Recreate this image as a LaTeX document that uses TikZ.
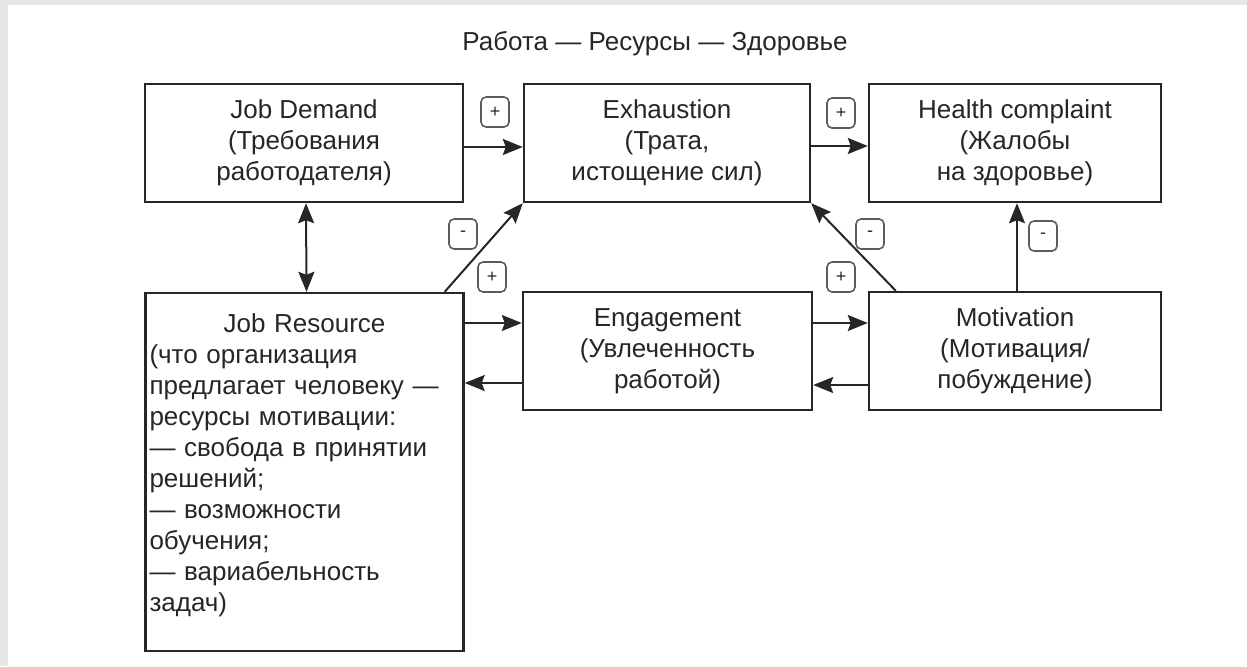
\documentclass[tikz,border=0pt]{standalone}
\usepackage{fontspec}
\setmainfont{Liberation Sans}
\usetikzlibrary{positioning,arrows.meta}
\definecolor{ink}{HTML}{262626}
\definecolor{edge}{HTML}{E7E5E5}
\tikzset{
  blk/.style={draw=ink,line width=1.2pt,align=center,inner sep=1pt,text=ink,
    font=\fontsize{13}{15.5}\selectfont},
  sgn/.style={draw=ink!75,line width=0.8pt,rounded corners=2.5pt,minimum width=14pt,
    minimum height=15pt,inner sep=0pt,text=ink,font=\fontsize{9}{9}\selectfont},
  tip/.tip={Stealth[length=10pt,width=8pt,inset=1.5pt]},
  arr/.style={draw=ink,line width=1pt,-tip},
  arr2/.style={draw=ink,line width=1pt,tip-tip},
}

\begin{document}
\begin{tikzpicture}[x=0.5pt,y=-0.5pt]
\useasboundingbox (0,0) rectangle (1247,666);
\fill[edge] (0,0) rectangle (1247,5);
\fill[edge] (0,0) rectangle (8,666);

\node[text=ink,font=\fontsize{13}{15.5}\selectfont] (title) at (655,44)
  {Работа — Ресурсы — Здоровье};

% top row
\node[blk,minimum width=159pt,minimum height=59pt] (demand) at (304,143)
  {Job Demand\\(Требования\\работодателя)};
\node[blk,minimum width=143pt,minimum height=59pt] (exhaust) at (667,143)
  {Exhaustion\\(Трата,\\истощение сил)};
\node[blk,minimum width=146pt,minimum height=59pt] (health) at (1015,143)
  {Health complaint\\(Жалобы\\на здоровье)};

% bottom row
\node[blk,align=left,text width=155pt,inner xsep=2pt,minimum width=159pt,minimum height=179pt] (resource) at (304.5,472)
  {\makebox[\hsize]{Job Resource}\\(что организация\\предлагает человеку —\\ресурсы мотивации:\\
   — свобода в принятии\\решений;\\— возможности\\обучения;\\— вариабельность\\задач)\\[-6pt]\mbox{}};
\node[blk,minimum width=144.5pt,minimum height=59pt] (engage) at (667.5,351)
  {Engagement\\(Увлеченность\\работой)};
\node[blk,minimum width=146pt,minimum height=59pt] (motiv) at (1015,351)
  {Motivation\\(Мотивация/\\побуждение)};

% connectors
\draw[arr] ([yshift=-2pt]demand.east) -- ([yshift=-2pt]exhaust.west);
\draw[arr] ([yshift=-1.5pt]exhaust.east) -- ([yshift=-1.5pt]health.west);
\draw[arr2] ([xshift=1pt]demand.south) -- ([xshift=1pt]resource.north);
\draw[arr] ([xshift=-10pt]resource.north east) -- (exhaust.south west);
\draw[arr] ([xshift=14pt]motiv.north west) -- (exhaust.south east);
\draw[arr] ([xshift=1pt]motiv.north) -- ([xshift=1pt]health.south);
\draw[arr] ([yshift=14pt]engage.west -| resource.east) -- ([yshift=14pt]engage.west);
\draw[arr] ([yshift=-16pt]engage.west) -- ([yshift=-16pt]engage.west -| resource.east);
\draw[arr] ([yshift=14pt]engage.east) -- ([yshift=14pt]motiv.west);
\draw[arr] ([yshift=-17pt]motiv.west) -- ([yshift=-17pt]engage.east);

% signs
\node[sgn] (s1) at (495,112) {+};
\node[sgn] (s2) at (841,113) {+};
\node[sgn] (s3) at (463,234) {-};
\node[sgn] (s4) at (492,277) {+};
\node[sgn] (s5) at (841,277) {+};
\node[sgn] (s6) at (870,234) {-};
\node[sgn] (s7) at (1043,236) {-};
\end{tikzpicture}
\end{document}
